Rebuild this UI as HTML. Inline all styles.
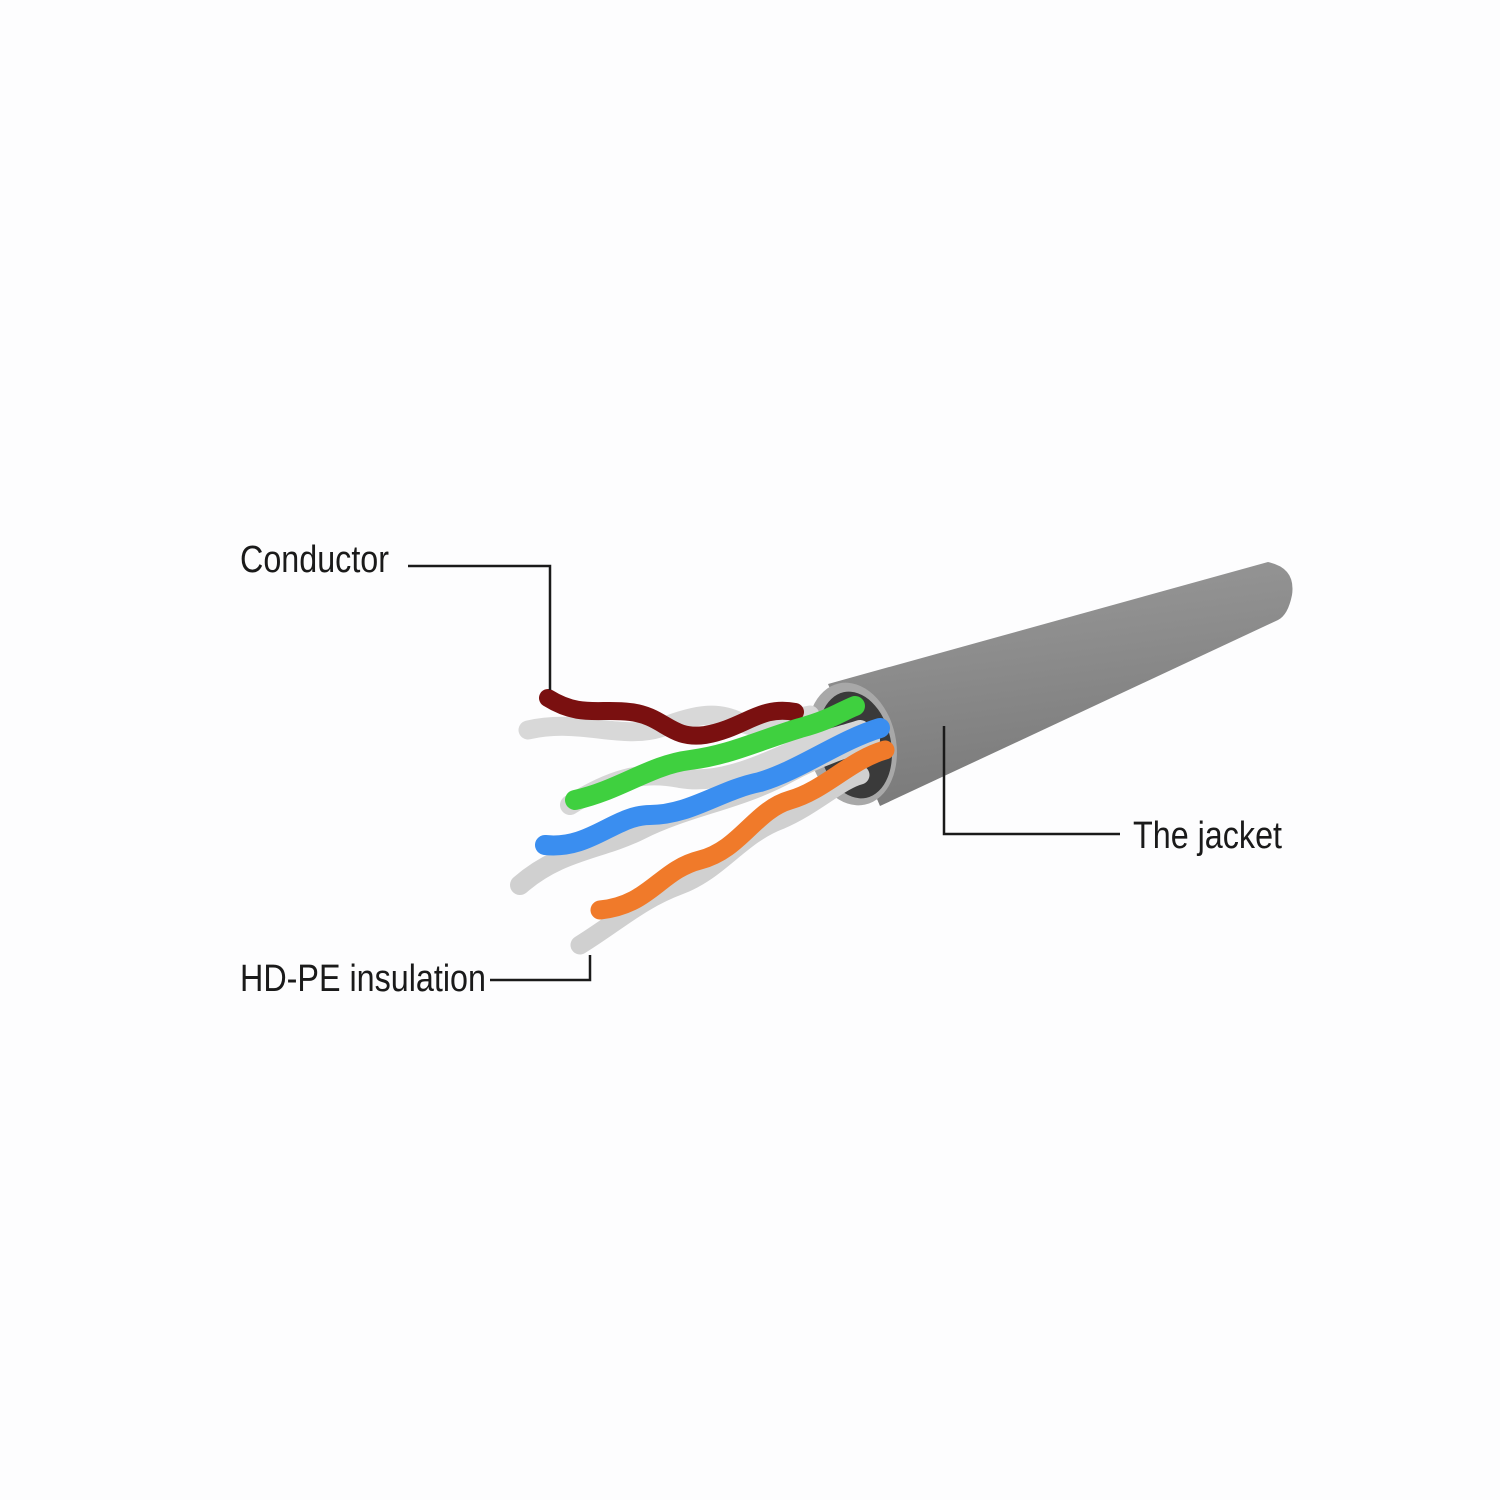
<!DOCTYPE html>
<html><head><style>
html,body{margin:0;padding:0;background:#fdfdfe;}
body{width:1500px;height:1500px;position:relative;overflow:hidden;}
.t{position:absolute;font-family:"Liberation Sans",sans-serif;font-size:38px;color:#1a1a1a;transform-origin:0 0;transform:scaleX(0.85);white-space:nowrap;line-height:1;}
</style></head><body>
<svg width="1500" height="1500" style="position:absolute;left:0;top:0">
<defs>
<linearGradient id="jk" x1="0" y1="0" x2="0.25" y2="1">
<stop offset="0" stop-color="#9a9a9a"/><stop offset="0.45" stop-color="#8c8c8c"/><stop offset="1" stop-color="#7a7a7a"/>
</linearGradient>
</defs>
<path d="M828,684 L1268,562 Q1296,568 1292,595 Q1288,615 1278,620 L880,806 Z" fill="url(#jk)"/>
<ellipse cx="852" cy="744" rx="44" ry="62" transform="rotate(-12 852 744)" fill="#a8a8a8"/>
<ellipse cx="855" cy="745" rx="36" ry="54" transform="rotate(-12 855 745)" fill="#3a3a3a"/>
<g fill="none" stroke-linecap="round">
<path d="M528,730 C580,718 620,740 660,728 C700,712 720,712 740,722 C770,736 790,718 810,715" stroke="#d8d8d8" stroke-width="19"/>
<path d="M548,698 C580,718 600,708 630,712 C665,716 670,740 705,735 C745,728 760,705 795,712" stroke="#7a1010" stroke-width="18"/>
<path d="M570,805 C610,780 640,770 680,778 C720,785 760,765 800,748 C830,738 845,735 860,730" stroke="#d6d6d6" stroke-width="20"/>
<path d="M575,800 C620,790 650,765 690,760 C730,755 760,740 800,728 C830,720 840,712 855,706" stroke="#3fd03f" stroke-width="20"/>
<path d="M520,885 C560,850 600,850 640,830 C690,805 740,800 790,772 C820,756 845,748 870,740" stroke="#d0d0d0" stroke-width="20"/>
<path d="M545,845 C590,850 615,815 650,815 C690,815 720,790 760,782 C800,770 840,740 880,728" stroke="#3a8ef0" stroke-width="20"/>
<path d="M580,945 C620,920 640,900 680,885 C720,870 740,835 780,820 C815,805 840,780 860,775" stroke="#d0d0d0" stroke-width="19"/>
<path d="M600,910 C650,905 660,870 700,860 C740,850 755,810 790,800 C825,790 850,760 885,750" stroke="#f07a2a" stroke-width="19"/>
</g>
<g fill="none" stroke="#1a1a1a" stroke-width="2.5">
<path d="M408,566 H550 V690"/>
<path d="M490,980 H590 V955"/>
<path d="M944,726 V834 H1120"/>
</g>
</svg>
<div class="t" style="left:240px;top:541px">Conductor</div>
<div class="t" style="left:240px;top:960px">HD-PE insulation</div>
<div class="t" style="left:1133px;top:817px">The jacket</div>
</body></html>
